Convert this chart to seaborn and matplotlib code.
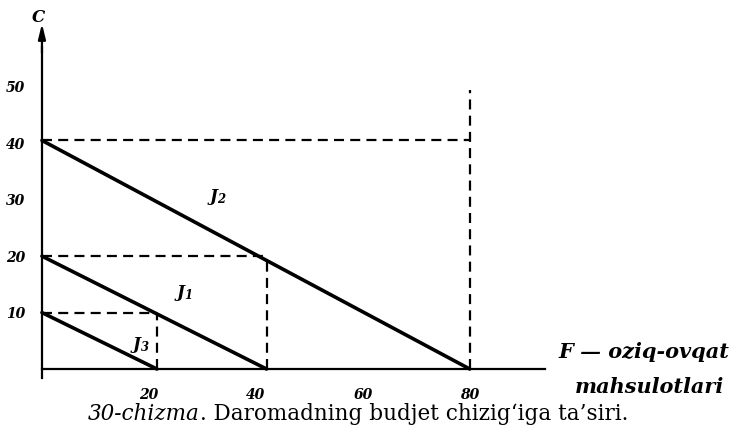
import pandas as pd
import matplotlib
matplotlib.use('Agg')
import matplotlib.pyplot as plt
import seaborn as sns

# budget lines: C (vertical) intercept and F (horizontal) intercept
line_names = ['J2', 'J1', 'J3']
c_intercepts = [40.5, 20, 10]
f_intercepts = [80, 42, 21.5]
guide_tops = [49.5, 20, 10]   # how far up the dashed verticals go

x_ticks = [20, 40, 60, 80]
y_ticks = [10, 20, 30, 40, 50]

label_text = [r'$J_2$', r'$J_1$', r'$J_3$']
label_x = [32.7, 26.4, 18.3]
label_y = [30.4, 13.5, 4.3]

sns.set_style('white')
plt.rcParams['font.family'] = ['DejaVu Serif']
plt.rcParams['mathtext.fontset'] = 'custom'
plt.rcParams['mathtext.rm'] = 'DejaVu Serif:italic:bold'
plt.rcParams['mathtext.it'] = 'DejaVu Serif:italic:bold'
plt.rcParams['mathtext.bf'] = 'DejaVu Serif:italic:bold'
for key in ['text.color', 'xtick.color', 'ytick.color', 'axes.labelcolor']:
    plt.rcParams[key] = 'black'

rows = []
for name, c, f in zip(line_names, c_intercepts, f_intercepts):
    rows.append({'line': name, 'F': 0, 'C': c})
    rows.append({'line': name, 'F': f, 'C': 0})
df = pd.DataFrame(rows)

fig = plt.figure(figsize=(7.34, 4.29), dpi=100)
ax = fig.add_axes([0.0426, 0.1135, 0.7067, 0.842])

sns.lineplot(data=df, x='F', y='C', units='line', estimator=None, sort=False,
             color='black', linewidth=2.6, legend=False, ax=ax)

# dashed guides
dash = (0, (4.5, 2.8))
ax.hlines(c_intercepts, 0, f_intercepts, colors='black', linewidth=1.6, linestyles=dash)
ax.vlines(f_intercepts, 0, guide_tops, colors='black', linewidth=1.6, linestyles=dash)

for t, lx, ly in zip(label_text, label_x, label_y):
    ax.text(lx, ly, t, fontsize=12, ha='center', va='center')

ax.set_xlim(-2, 95)
ax.set_ylim(-2, 62)
ax.set_xlabel('')
ax.set_ylabel('')

for side in ['top', 'right']:
    ax.spines[side].set_visible(False)
ax.spines['left'].set_position(('data', 0))
ax.spines['bottom'].set_position(('data', 0))
ax.spines['left'].set_bounds(-1.6, 57)
ax.spines['bottom'].set_bounds(0, 94)
for side in ['left', 'bottom']:
    ax.spines[side].set_linewidth(1.6)
    ax.spines[side].set_color('black')

ax.annotate('', xy=(0, 61.2), xytext=(0, 56),
            arrowprops=dict(arrowstyle='-|>,head_length=0.9,head_width=0.22',
                            color='black', lw=1.6, shrinkA=0, shrinkB=0))

ax.set_xticks(x_ticks)
ax.set_yticks(y_ticks)
ax.set_xticklabels([str(v) for v in x_ticks], fontsize=10, fontweight='bold', fontstyle='italic')
ax.set_yticklabels([str(v) for v in y_ticks], fontsize=10, fontweight='bold', fontstyle='italic')
ax.tick_params(axis='x', length=0, pad=14)
ax.tick_params(axis='y', length=0, pad=12)

fig.text(0.052, 0.960, 'C', fontsize=12, fontweight='bold', fontstyle='italic', ha='center', va='center')
fig.text(0.877, 0.1795, 'F — oziq-ovqat', fontsize=15, fontweight='bold', fontstyle='italic',
         ha='center', va='center')
fig.text(0.885, 0.098, 'mahsulotlari', fontsize=15, fontweight='bold', fontstyle='italic',
         ha='center', va='center')

# caption: italic part then upright part
renderer = fig.canvas.get_renderer()
cap1 = fig.text(88 / 734, 0.036, '30-chizma', fontsize=15.5, fontstyle='italic', ha='left', va='center')
bb = cap1.get_window_extent(renderer=renderer)
fig.text(bb.x1 / fig.bbox.width, 0.036, '. Daromadning budjet chizig‘iga ta’siri.',
         fontsize=15.5, ha='left', va='center')

fig.savefig('out.png', dpi=100)
